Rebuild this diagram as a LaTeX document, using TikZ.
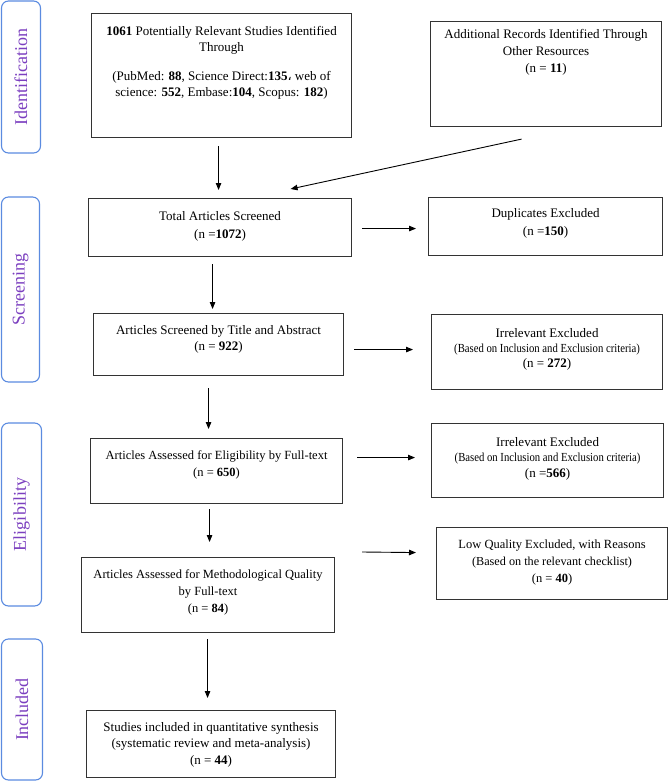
\documentclass[tikz,border=0pt]{standalone}
\usepackage{fontspec}
\setmainfont{Liberation Serif}
\newfontfamily\arabicfont[Script=Arabic]{DejaVu Sans}
\newfontfamily\narrowfont[FakeStretch=0.87]{Liberation Serif}
\usetikzlibrary{arrows.meta}
\definecolor{boxgray}{HTML}{333333}
\definecolor{sideblue}{HTML}{5B8BE0}
\definecolor{sidepurple}{HTML}{7B3FBF}
\newcommand{\fsz}[2]{\fontsize{#1}{#2}\selectfont}
\tikzset{
  box/.style={draw=boxgray, line width=1.1pt, inner sep=0pt, anchor=north west},
  txt/.style={anchor=base, align=center, inner sep=0pt, font=\fsz{13}{17}},
  side/.style={draw=sideblue, line width=1.1pt, rounded corners=7pt, inner sep=0pt,
    rotate=90, text=sidepurple, font=\fsz{18}{20}},
  arr/.style={-{Triangle[length=7pt,width=5.5pt]}, line width=0.9pt, draw=black}
}
\begin{document}
\begin{tikzpicture}[x=1pt, y=-1pt]
\useasboundingbox (0,0) rectangle (667,781);

% side labels
\node[side, minimum width=152pt, minimum height=39pt] (sid) at (21,77) {Identification};
\node[side, minimum width=185pt, minimum height=38pt] (ssc) at (20.5,289.5) {Screening};
\node[side, minimum width=183pt, minimum height=40pt] (sel) at (21.5,514.5) {Eligibility};
\node[side, minimum width=141pt, minimum height=41pt] (sin) at (22,709.5) {Included};

% boxes (text nodes anchored at the baseline of their last line)
\node[box, minimum width=260pt, minimum height=124pt] (b1) at (91,13) {};
\node[txt, font=\fsz{13}{16.5}] (b1t) at ([yshift=-84pt]b1.north) {\textbf{1061} Potentially Relevant Studies Identified\\Through\\[12pt](PubMed: \textbf{88}, Science Direct:\textbf{135}{\arabicfont\fsz{13}{16}،} web of\\science: \textbf{552}, Embase:\textbf{104}, Scopus: \textbf{182})};

\node[box, minimum width=231pt, minimum height=105pt] (b2) at (430,21) {};
\node[txt] (b2t) at ([yshift=-52pt]b2.north) {Additional Records Identified Through\\Other Resources\\(n = \textbf{11})};

\node[box, minimum width=263pt, minimum height=58pt] (tot) at (88,198) {};
\node[txt, font=\fsz{13}{18}] (tott) at ([yshift=-40pt]tot.north) {Total Articles Screened\\(n =\textbf{1072})};

\node[box, minimum width=234pt, minimum height=58pt] (dup) at (428,197) {};
\node[txt, font=\fsz{13}{18}] (dupt) at ([yshift=-38pt]dup.north) {Duplicates Excluded\\(n =\textbf{150})};

\node[box, minimum width=250pt, minimum height=62pt] (tit) at (93,313) {};
\node[txt, font=\fsz{13}{16}] (titt) at ([yshift=-37pt]tit.north) {Articles Screened by Title and Abstract\\(n = \textbf{922})};

\node[box, minimum width=231pt, minimum height=75pt] (ir1) at (431,314) {};
\node[txt, font=\fsz{13}{15}] (ir1t) at ([yshift=-53pt]ir1.north) {Irrelevant Excluded\\{\narrowfont\fsz{12.3}{15}(Based on Inclusion and Exclusion criteria)}\\(n = \textbf{272})};

\node[box, minimum width=252pt, minimum height=65pt] (eli) at (90,438) {};
\node[txt, font=\fsz{12.5}{17}] (elit) at ([yshift=-38pt]eli.north) {Articles Assessed for Eligibility by Full-text\\(n = \textbf{650})};

\node[box, minimum width=232pt, minimum height=74pt] (ir2) at (431,423) {};
\node[txt, font=\fsz{13}{15.5}] (ir2t) at ([yshift=-54pt]ir2.north) {Irrelevant Excluded\\{\narrowfont\fsz{12.3}{15.5}(Based on Inclusion and Exclusion criteria)}\\(n =\textbf{566})};

\node[box, minimum width=253pt, minimum height=75pt] (met) at (81,557) {};
\node[txt, font=\fsz{12.5}{17}] (mett) at ([yshift=-55pt]met.north) {Articles Assessed for Methodological Quality\\by Full-text\\(n = \textbf{84})};

\node[box, minimum width=231pt, minimum height=72pt] (low) at (436,527) {};
\node[txt, font=\fsz{12.5}{17}] (lowt) at ([yshift=-55pt]low.north) {Low Quality Excluded, with Reasons\\{\fsz{12.2}{17}(Based on the relevant checklist)}\\(n = \textbf{40})};

\node[box, minimum width=249pt, minimum height=67pt] (stu) at (86,710) {};
\node[txt, font=\fsz{13}{16.5}] (stut) at ([yshift=-54pt]stu.north) {Studies included in quantitative synthesis\\(systematic review and meta-analysis)\\(n = \textbf{44})};

% arrows
\draw[arr] ([xshift=-3pt,yshift=-8pt]b1.south) -- ([xshift=-1.5pt,yshift=8pt]tot.north);
\draw[arr] ([xshift=-24.5pt,yshift=-12pt]b2.south) -- ([xshift=70.5pt,yshift=9pt]tot.north);
\draw[arr] ([xshift=10pt,yshift=-1pt]tot.east) -- ([xshift=-12pt,yshift=-2pt]dup.west);
\draw[arr] ([xshift=-7.5pt,yshift=-7pt]tot.south) -- ([xshift=-6pt,yshift=4pt]tit.north);
\draw[arr] ([xshift=10pt,yshift=-5pt]tit.east) -- ([xshift=-18pt,yshift=2.5pt]ir1.west);
\draw[arr] ([xshift=-10pt,yshift=-12pt]tit.south) -- ([xshift=-8pt,yshift=9pt]eli.north);
\draw[arr] ([xshift=14pt,yshift=13.5pt]eli.east) -- ([xshift=-16pt,yshift=3pt]ir2.west);
\draw[arr] ([xshift=-7pt,yshift=-5pt]eli.south) -- ([xshift=1.5pt,yshift=15pt]met.north);
\draw[arr] ([xshift=27pt,yshift=5pt]met.north east) -- ([xshift=-20pt,yshift=11pt]low.west);
\draw[arr] ([xshift=-0.5pt,yshift=-6pt]met.south) -- ([xshift=-3.5pt,yshift=12pt]stu.north);
\end{tikzpicture}
\end{document}
